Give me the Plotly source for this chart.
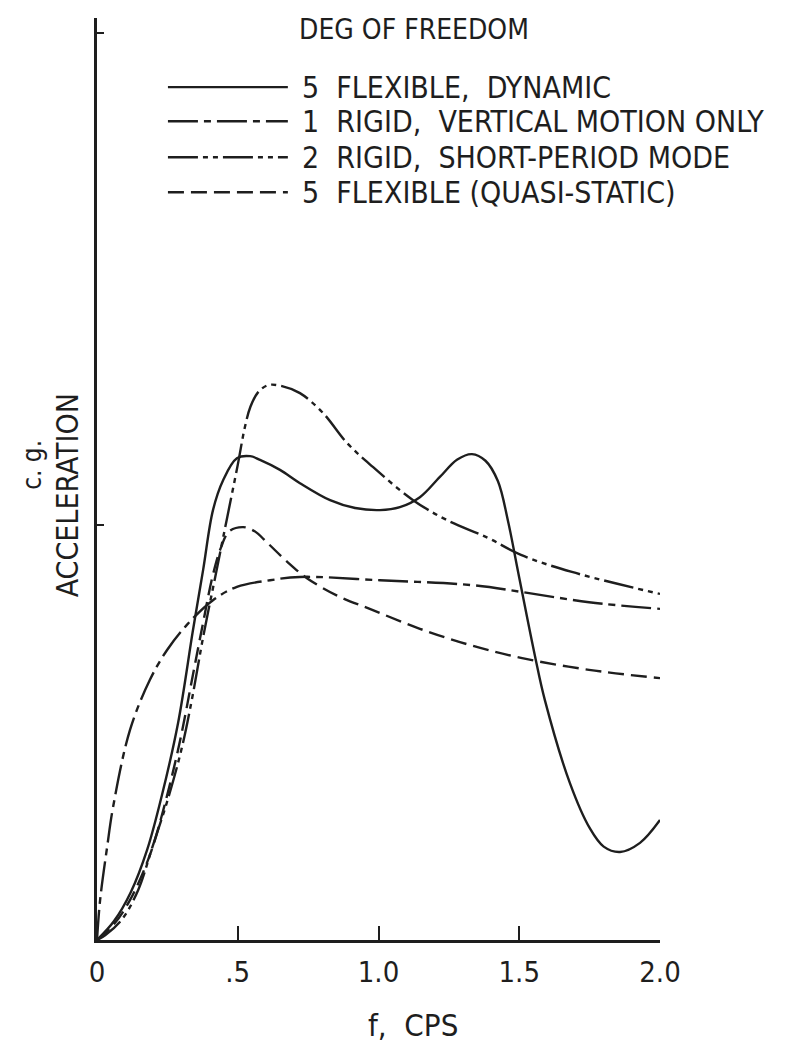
import plotly.graph_objects as go

# Frequency (cps) and c.g. acceleration (relative units) for each model
f_flex_dyn = [0.0, 0.060, 0.120, 0.178, 0.231, 0.288, 0.341, 0.377, 0.412, 0.448, 0.497,
              0.544, 0.579, 0.650, 0.721, 0.828, 0.917, 1.005, 1.076, 1.147, 1.218,
              1.280, 1.332, 1.380, 1.424, 1.460, 1.496, 1.556, 1.591, 1.680, 1.750,
              1.800, 1.858, 1.929, 2.0]
a_flex_dyn = [0.0, 0.045, 0.115, 0.217, 0.350, 0.523, 0.747, 0.892, 1.036, 1.108, 1.161,
              1.166, 1.157, 1.133, 1.101, 1.060, 1.041, 1.036, 1.043, 1.067, 1.116,
              1.158, 1.171, 1.155, 1.106, 1.010, 0.887, 0.684, 0.578, 0.378, 0.270,
              0.225, 0.212, 0.234, 0.289]

f_rigid_vert = [0.0, 0.011, 0.036, 0.057, 0.117, 0.188, 0.249, 0.320, 0.412, 0.497,
                0.615, 0.721, 1.005, 1.336, 1.506, 1.748, 2.0]
a_rigid_vert = [0.0, 0.096, 0.224, 0.320, 0.506, 0.627, 0.699, 0.760, 0.819, 0.851,
                0.867, 0.875, 0.867, 0.855, 0.839, 0.814, 0.798]

f_rigid_sp = [0.0, 0.030, 0.089, 0.146, 0.195, 0.252, 0.302, 0.340, 0.377, 0.420, 0.460,
              0.500, 0.525, 0.545, 0.570, 0.607, 0.657, 0.721, 0.803, 0.888, 0.980,
              1.123, 1.243, 1.389, 1.506, 1.687, 2.0]
a_rigid_sp = [0.0, 0.012, 0.050, 0.120, 0.220, 0.340, 0.465, 0.590, 0.730, 0.875, 1.010,
              1.145, 1.235, 1.285, 1.318, 1.337, 1.335, 1.318, 1.270, 1.198, 1.140,
              1.060, 1.012, 0.969, 0.928, 0.887, 0.834]

f_flex_qs = [0.0, 0.060, 0.117, 0.188, 0.242, 0.295, 0.341, 0.377, 0.410, 0.440, 0.470,
             0.519, 0.560, 0.604, 0.675, 0.746, 0.853, 0.980, 1.147, 1.329, 1.506,
             1.748, 2.0]
a_flex_qs = [0.0, 0.038, 0.096, 0.205, 0.330, 0.480, 0.640, 0.765, 0.875, 0.945, 0.985,
             0.995, 0.985, 0.958, 0.912, 0.872, 0.830, 0.795, 0.750, 0.710, 0.680,
             0.651, 0.631]

x_tick_vals = [0.0, 0.5, 1.0, 1.5, 2.0]
x_tick_text = ["0", ".5", "1.0", "1.5", "2.0"]
y_tick_vals = [1.0, 2.186]

legend_title = "DEG OF FREEDOM"
legend_labels = ["5  FLEXIBLE,  DYNAMIC",
                 "1  RIGID,  VERTICAL MOTION ONLY",
                 "2  RIGID,  SHORT-PERIOD MODE",
                 "5  FLEXIBLE (QUASI-STATIC)"]

INK = "#1e1e1e"
FONT = "Liberation Sans Narrow, DejaVu Sans Condensed, Arial Narrow, sans-serif"
LW = 2.4

dashes = [
    "solid",
    "30px,6px,7px,6px",
    "30px,5px,5px,5px,5px,5px",
    "16px,7px",
]

series = [
    (f_flex_dyn, a_flex_dyn),
    (f_rigid_vert, a_rigid_vert),
    (f_rigid_sp, a_rigid_sp),
    (f_flex_qs, a_flex_qs),
]

fig = go.Figure()
for (fx, ay), dash, name in zip(series, dashes, legend_labels):
    fig.add_trace(go.Scatter(
        x=fx, y=ay, mode="lines", name=name, showlegend=False,
        line=dict(color=INK, width=LW, dash=dash, shape="spline", smoothing=1.0),
    ))

# Key: sample line plus label for each model
row_y = [0.925, 0.888, 0.849, 0.811]
for yy, dash, label in zip(row_y, dashes, legend_labels):
    fig.add_shape(type="line", xref="paper", yref="paper",
                  x0=0.126, x1=0.339, y0=yy, y1=yy,
                  line=dict(color=INK, width=LW, dash=dash))
    fig.add_annotation(xref="paper", yref="paper", x=0.36, y=yy, text=label,
                       showarrow=False, xanchor="left", yanchor="middle",
                       font=dict(family=FONT, size=30, color=INK))

fig.add_annotation(xref="paper", yref="paper", x=0.355, y=0.987, text=legend_title,
                   showarrow=False, xanchor="left", yanchor="middle",
                   font=dict(family=FONT, size=28, color=INK))

# Axis titles
fig.add_annotation(xref="paper", yref="paper", x=0.562, y=-0.092, text="f,  CPS",
                   showarrow=False, xanchor="center", yanchor="middle",
                   font=dict(family=FONT, size=31, color=INK))
fig.add_annotation(xref="paper", yref="paper", x=-0.116, y=0.515, text="c. g.",
                   showarrow=False, textangle=-90, xanchor="center", yanchor="middle",
                   font=dict(family=FONT, size=26, color=INK))
fig.add_annotation(xref="paper", yref="paper", x=-0.052, y=0.482, text="ACCELERATION",
                   showarrow=False, textangle=-90, xanchor="center", yanchor="middle",
                   font=dict(family=FONT, size=30, color=INK))

fig.update_layout(
    width=798, height=1044,
    margin=dict(l=97, r=138, t=18, b=104),
    paper_bgcolor="white", plot_bgcolor="white",
    showlegend=False,
)
fig.update_xaxes(
    range=[0, 2.0], tickvals=x_tick_vals, ticktext=x_tick_text,
    ticks="inside", ticklen=14, tickwidth=2, tickcolor=INK,
    showline=True, linecolor=INK, linewidth=2.5, showgrid=False, zeroline=False,
    tickfont=dict(family=FONT, size=29, color=INK), ticklabelstandoff=4,
)
fig.update_yaxes(
    range=[0, 2.222], tickvals=y_tick_vals, showticklabels=False,
    ticks="inside", ticklen=7, tickwidth=2, tickcolor=INK,
    showline=True, linecolor=INK, linewidth=2.5, showgrid=False, zeroline=False,
)

fig.write_html("out.html")
